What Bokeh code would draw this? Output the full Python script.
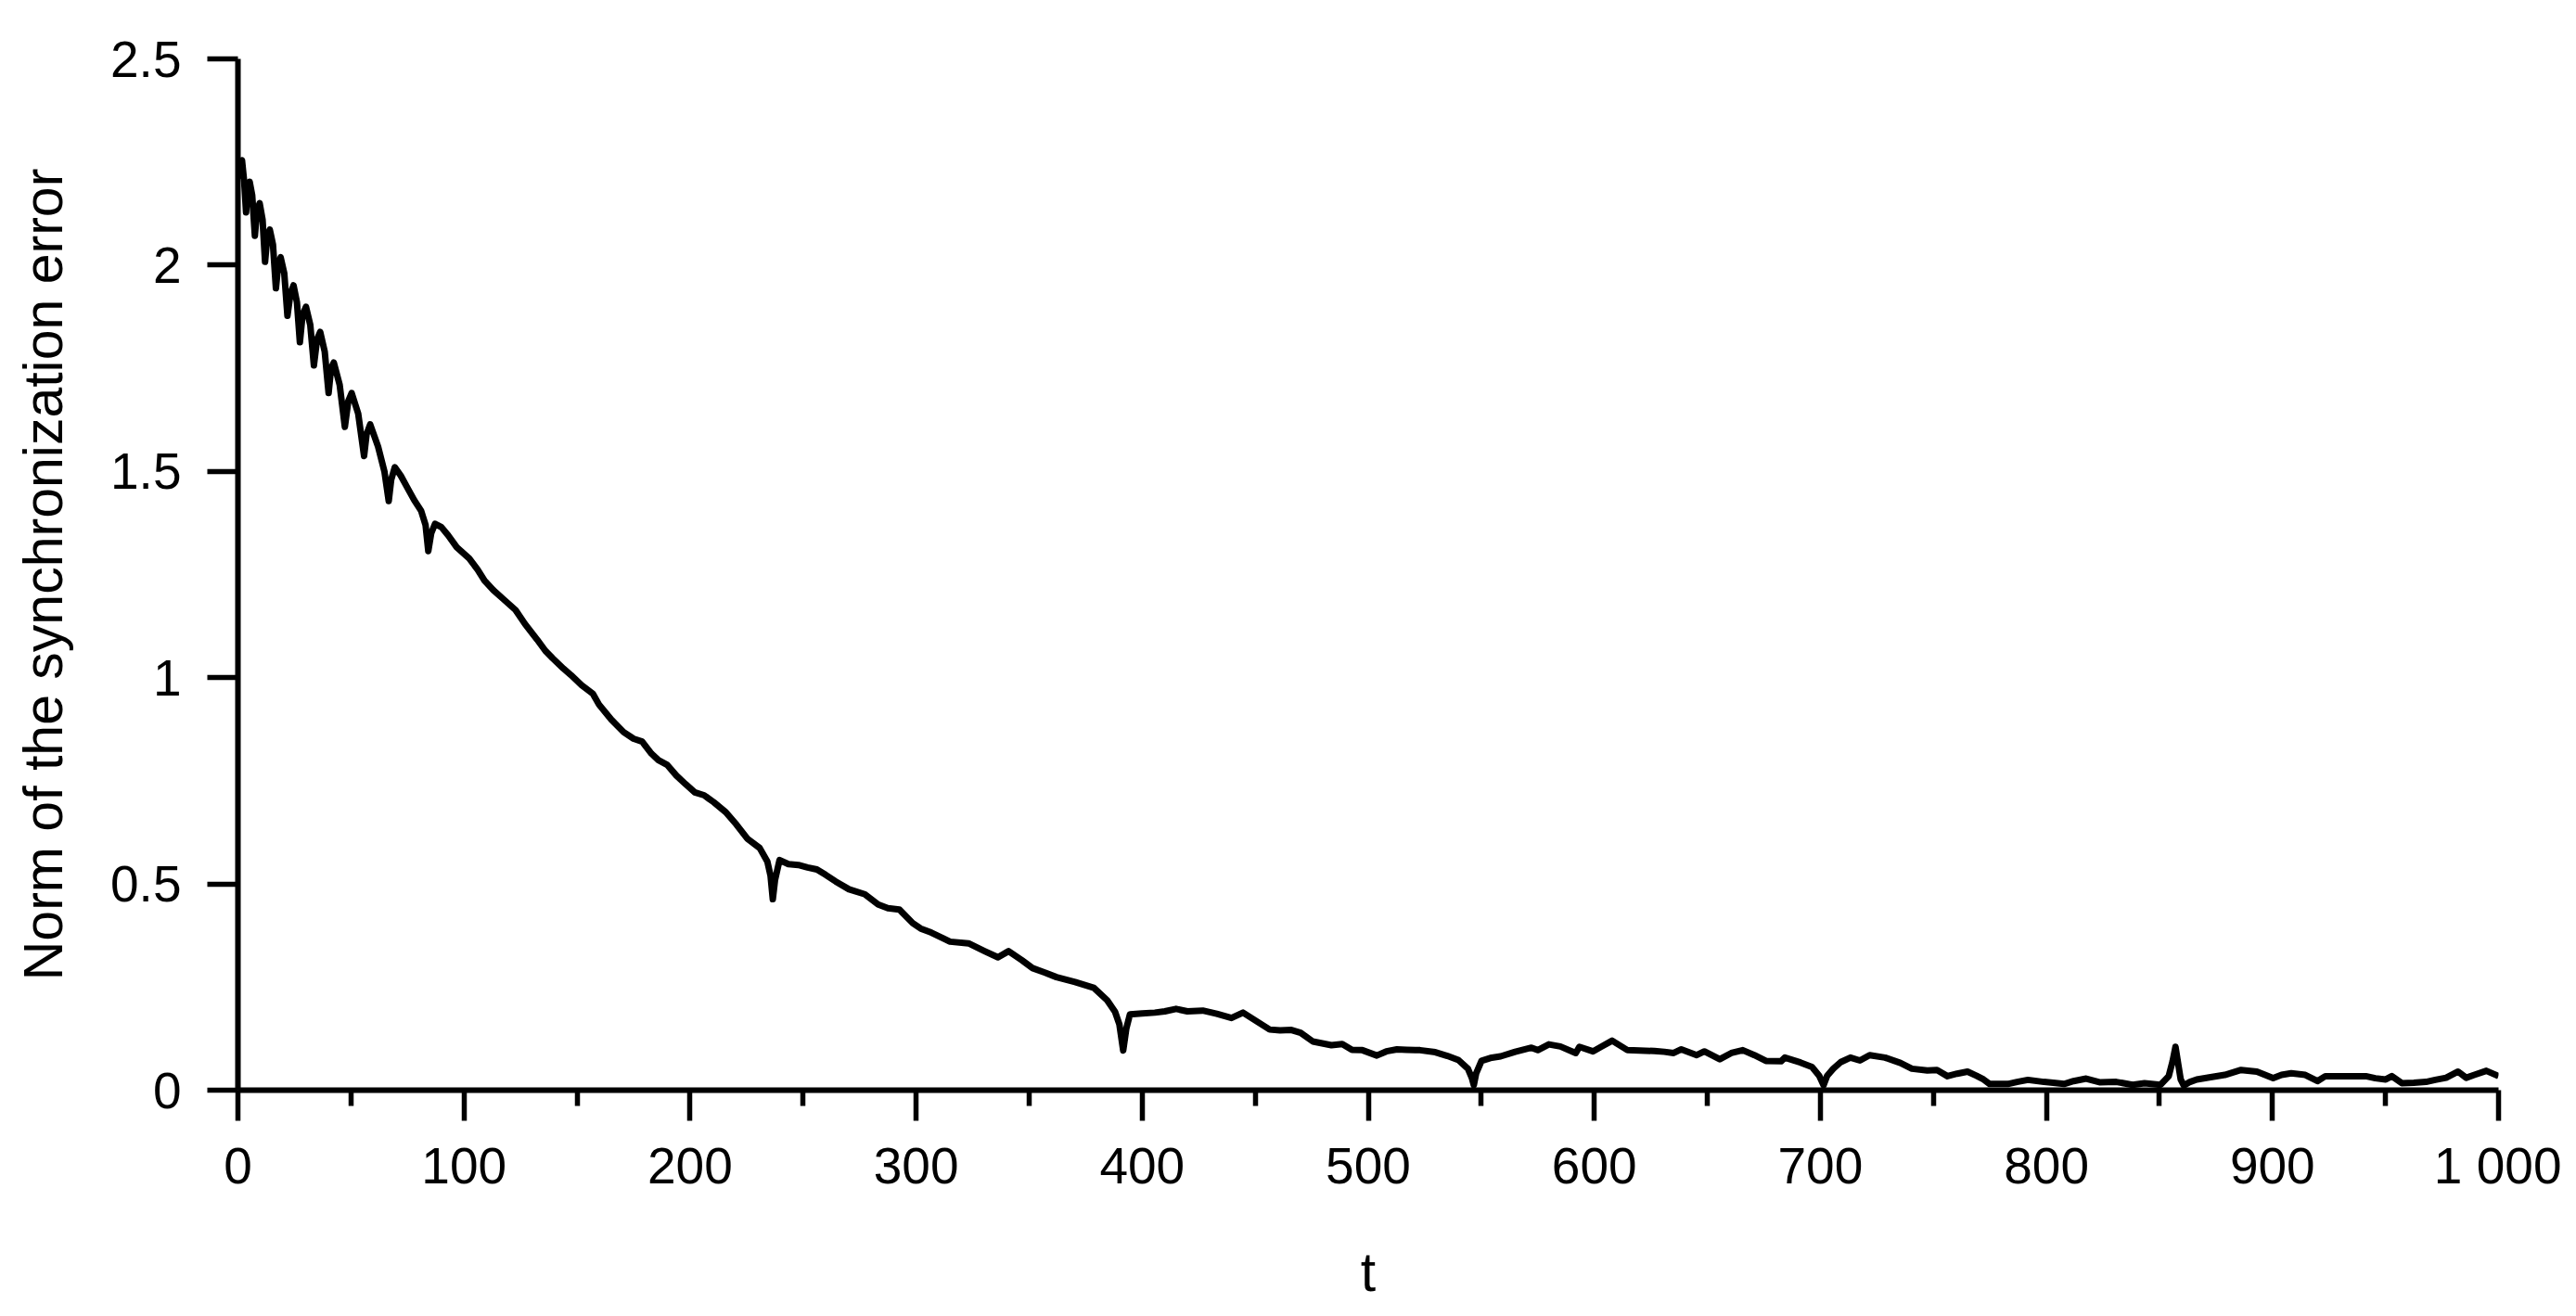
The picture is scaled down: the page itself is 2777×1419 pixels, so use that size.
from bokeh.plotting import figure
from bokeh.models import Range1d, FixedTicker
from bokeh.embed import file_html
from bokeh.resources import INLINE

# ---- data ----
t = [0, 1.0, 1.8, 2.8, 3.6, 4.3, 5.2, 6.3, 7.5, 8.4, 9.6, 10.9, 12.0, 13.0, 14.1, 15.5, 16.8,
     17.8, 18.9, 20.5, 21.9, 23.2, 24.6, 26.1, 27.4, 28.6, 30.1, 32.0, 33.6, 35.0, 36.4, 38.4,
     40.1, 41.2, 42.4, 45.0, 47.3, 48.8, 50.3, 53.2, 55.8, 56.9, 58.5, 62.0, 64.8, 66.7, 67.8,
     69.4, 72.0, 75.0, 78.0, 81.0, 83.0, 84.2, 85.5, 87.2, 90.0, 93.0, 96.8, 102.3, 106.0,
     109.1, 113.0, 117.3, 122.8, 127.0, 132.4, 136.0, 139.2, 144.0, 147.4, 152.0, 157.0,
     159.7, 165.2, 170.6, 175.0, 178.8, 182.9, 186.0, 189.8, 193.9, 198.0, 202.1, 206.2,
     210.5, 215.8, 220.5, 225.3, 230.8, 234.2, 235.6, 236.6, 237.6, 239.6, 243.5, 247.9,
     252.0, 256.1, 260.0, 264.4, 270.3, 277.3, 283.2, 287.5, 292.6, 298.5, 302.0, 306.7,
     315.0, 323.2, 330.3, 336.2, 340.9, 346.8, 351.5, 357.0, 362.1, 370.3, 378.6, 384.5,
     388.0, 389.9, 391.6, 393.0, 394.6, 400.0, 405.6, 410.0, 415.0, 420.0, 426.8, 433.0,
     439.5, 444.6, 450.9, 456.4, 461.0, 466.0, 470.1, 475.5, 483.7, 488.5, 492.8, 497.4,
     503.8, 508.0, 512.7, 517.0, 522.9, 529.7, 535.0, 539.9, 544.1, 545.8, 546.7, 547.7,
     550.1, 554.0, 558.6, 565.0, 572.2, 575.0, 579.9, 585.0, 591.8, 593.4, 599.4, 603.0,
     607.9, 614.7, 620.0, 626.6, 631.0, 635.1, 638.5, 645.3, 648.7, 655.5, 660.6, 665.7,
     670.8, 675.9, 682.6, 684.3, 691.2, 696.3, 699.5, 701.4, 703.0, 705.7, 709.0, 713.3,
     717.5, 721.8, 728.6, 735.4, 740.5, 747.3, 751.6, 756.2, 760.5, 765.1, 769.0, 772.2,
     774.9, 782.9, 787.0, 791.8, 798.9, 803.0, 807.8, 812.0, 817.6, 823.8, 830.9, 838.1,
     843.4, 850.5, 854.1, 855.8, 857.1, 858.4, 859.4, 860.8, 863.5, 866.5, 872.0, 878.9,
     882.5, 886.1, 893.1, 900.3, 904.0, 908.3, 914.5, 919.9, 923.4, 932.4, 941.3, 945.5,
     950.1, 952.8, 957.2, 962.5, 967.9, 972.0, 976.8, 982.1, 985.7, 989.3, 994.6, 1000]

error_norm = [2.21, 2.25, 2.254, 2.20, 2.128, 2.19, 2.202, 2.17, 2.071, 2.13, 2.150, 2.11, 2.008,
     2.07, 2.086, 2.05, 1.944, 2.00, 2.019, 1.98, 1.877, 1.93, 1.951, 1.91, 1.813, 1.88, 1.899,
     1.855, 1.757, 1.82, 1.838, 1.79, 1.690, 1.75, 1.764, 1.71, 1.608, 1.67, 1.690, 1.64, 1.537,
     1.59, 1.614, 1.56, 1.50, 1.428, 1.48, 1.510, 1.49, 1.46, 1.43, 1.405, 1.37, 1.307, 1.35,
     1.373, 1.365, 1.345, 1.316, 1.289, 1.262, 1.235, 1.212, 1.191, 1.164, 1.130, 1.092, 1.065,
     1.047, 1.022, 1.006, 0.982, 0.961, 0.935, 0.898, 0.868, 0.852, 0.845, 0.816, 0.800, 0.789,
     0.763, 0.742, 0.722, 0.715, 0.698, 0.674, 0.644, 0.610, 0.587, 0.554, 0.52, 0.463, 0.51,
     0.558, 0.548, 0.546, 0.54, 0.535, 0.522, 0.506, 0.487, 0.475, 0.450, 0.441, 0.438, 0.405,
     0.392, 0.382, 0.360, 0.356, 0.337, 0.322, 0.337, 0.315, 0.296, 0.285, 0.274, 0.262, 0.248,
     0.218, 0.19, 0.16, 0.096, 0.15, 0.184, 0.186, 0.188, 0.191, 0.197, 0.191, 0.193, 0.185,
     0.175, 0.188, 0.166, 0.147, 0.145, 0.146, 0.139, 0.118, 0.109, 0.112, 0.098, 0.097, 0.084,
     0.094, 0.099, 0.098, 0.097, 0.092, 0.083, 0.073, 0.052, 0.03, 0.012, 0.04, 0.071, 0.078,
     0.082, 0.093, 0.103, 0.097, 0.111, 0.106, 0.090, 0.105, 0.094, 0.105, 0.120, 0.097, 0.096,
     0.095, 0.093, 0.090, 0.099, 0.085, 0.094, 0.075, 0.090, 0.097, 0.085, 0.071, 0.070, 0.079,
     0.067, 0.056, 0.035, 0.012, 0.035, 0.052, 0.068, 0.079, 0.072, 0.085, 0.079, 0.066, 0.052,
     0.048, 0.049, 0.034, 0.040, 0.045, 0.035, 0.026, 0.015, 0.015, 0.020, 0.025, 0.020, 0.018,
     0.015, 0.022, 0.028, 0.019, 0.020, 0.013, 0.017, 0.013, 0.034, 0.07, 0.105, 0.06, 0.026,
     0.011, 0.020, 0.026, 0.031, 0.037, 0.043, 0.049, 0.045, 0.029, 0.037, 0.041, 0.037, 0.022,
     0.034, 0.034, 0.034, 0.029, 0.026, 0.034, 0.017, 0.018, 0.020, 0.025, 0.030, 0.045, 0.030,
     0.037, 0.047, 0.034]

x_major_ticks = [0, 100, 200, 300, 400, 500, 600, 700, 800, 900, 1000]
x_tick_labels = ["0", "100", "200", "300", "400", "500", "600", "700", "800", "900", "1 000"]
x_minor_ticks = [50, 150, 250, 350, 450, 550, 650, 750, 850, 950]
y_major_ticks = [0, 0.5, 1, 1.5, 2, 2.5]
y_tick_labels = ["0", "0.5", "1", "1.5", "2", "2.5"]

FONT = "Liberation Sans"
TICK_FS = "55px"
LABEL_FS = "59px"

p = figure(width=2761, height=1408, output_backend="svg", toolbar_location=None,
           x_range=Range1d(0, 1000), y_range=Range1d(0, 2.5),
           min_border_left=256, min_border_right=68, min_border_top=63, min_border_bottom=233)
p.outline_line_color = None
p.grid.visible = False
p.background_fill_color = "white"
p.border_fill_color = "white"

p.line(t, error_norm, line_width=7, line_color="black", line_join="round")

# x axis
xa = p.xaxis[0]
xa.ticker = FixedTicker(ticks=x_major_ticks, minor_ticks=x_minor_ticks)
xa.major_label_overrides = {tk: lb for tk, lb in zip(x_major_ticks, x_tick_labels)}
xa.axis_label = "t"

# y axis
ya = p.yaxis[0]
ya.ticker = FixedTicker(ticks=y_major_ticks)
ya.major_label_overrides = {tk: lb for tk, lb in zip(y_major_ticks, y_tick_labels)}
ya.axis_label = "Norm of the synchronization error"

for ax in (xa, ya):
    ax.axis_line_width = 6
    ax.axis_line_color = "black"
    ax.major_tick_line_width = 5.5
    ax.major_tick_line_color = "black"
    ax.major_tick_in = 0
    ax.major_tick_out = 33
    ax.minor_tick_in = 0
    ax.minor_tick_out = 17
    ax.minor_tick_line_width = 5.5
    ax.minor_tick_line_color = "black"
    ax.major_label_text_font = FONT
    ax.major_label_text_font_size = TICK_FS
    ax.major_label_text_color = "black"
    ax.axis_label_text_font = FONT
    ax.axis_label_text_font_size = LABEL_FS
    ax.axis_label_text_font_style = "normal"
    ax.axis_label_text_color = "black"

ya.minor_tick_line_color = None
xa.major_label_standoff = 17
xa.axis_label_standoff = 48
ya.major_label_standoff = 28
ya.axis_label_standoff = 36

open("out.html", "w").write(file_html(p, INLINE))
